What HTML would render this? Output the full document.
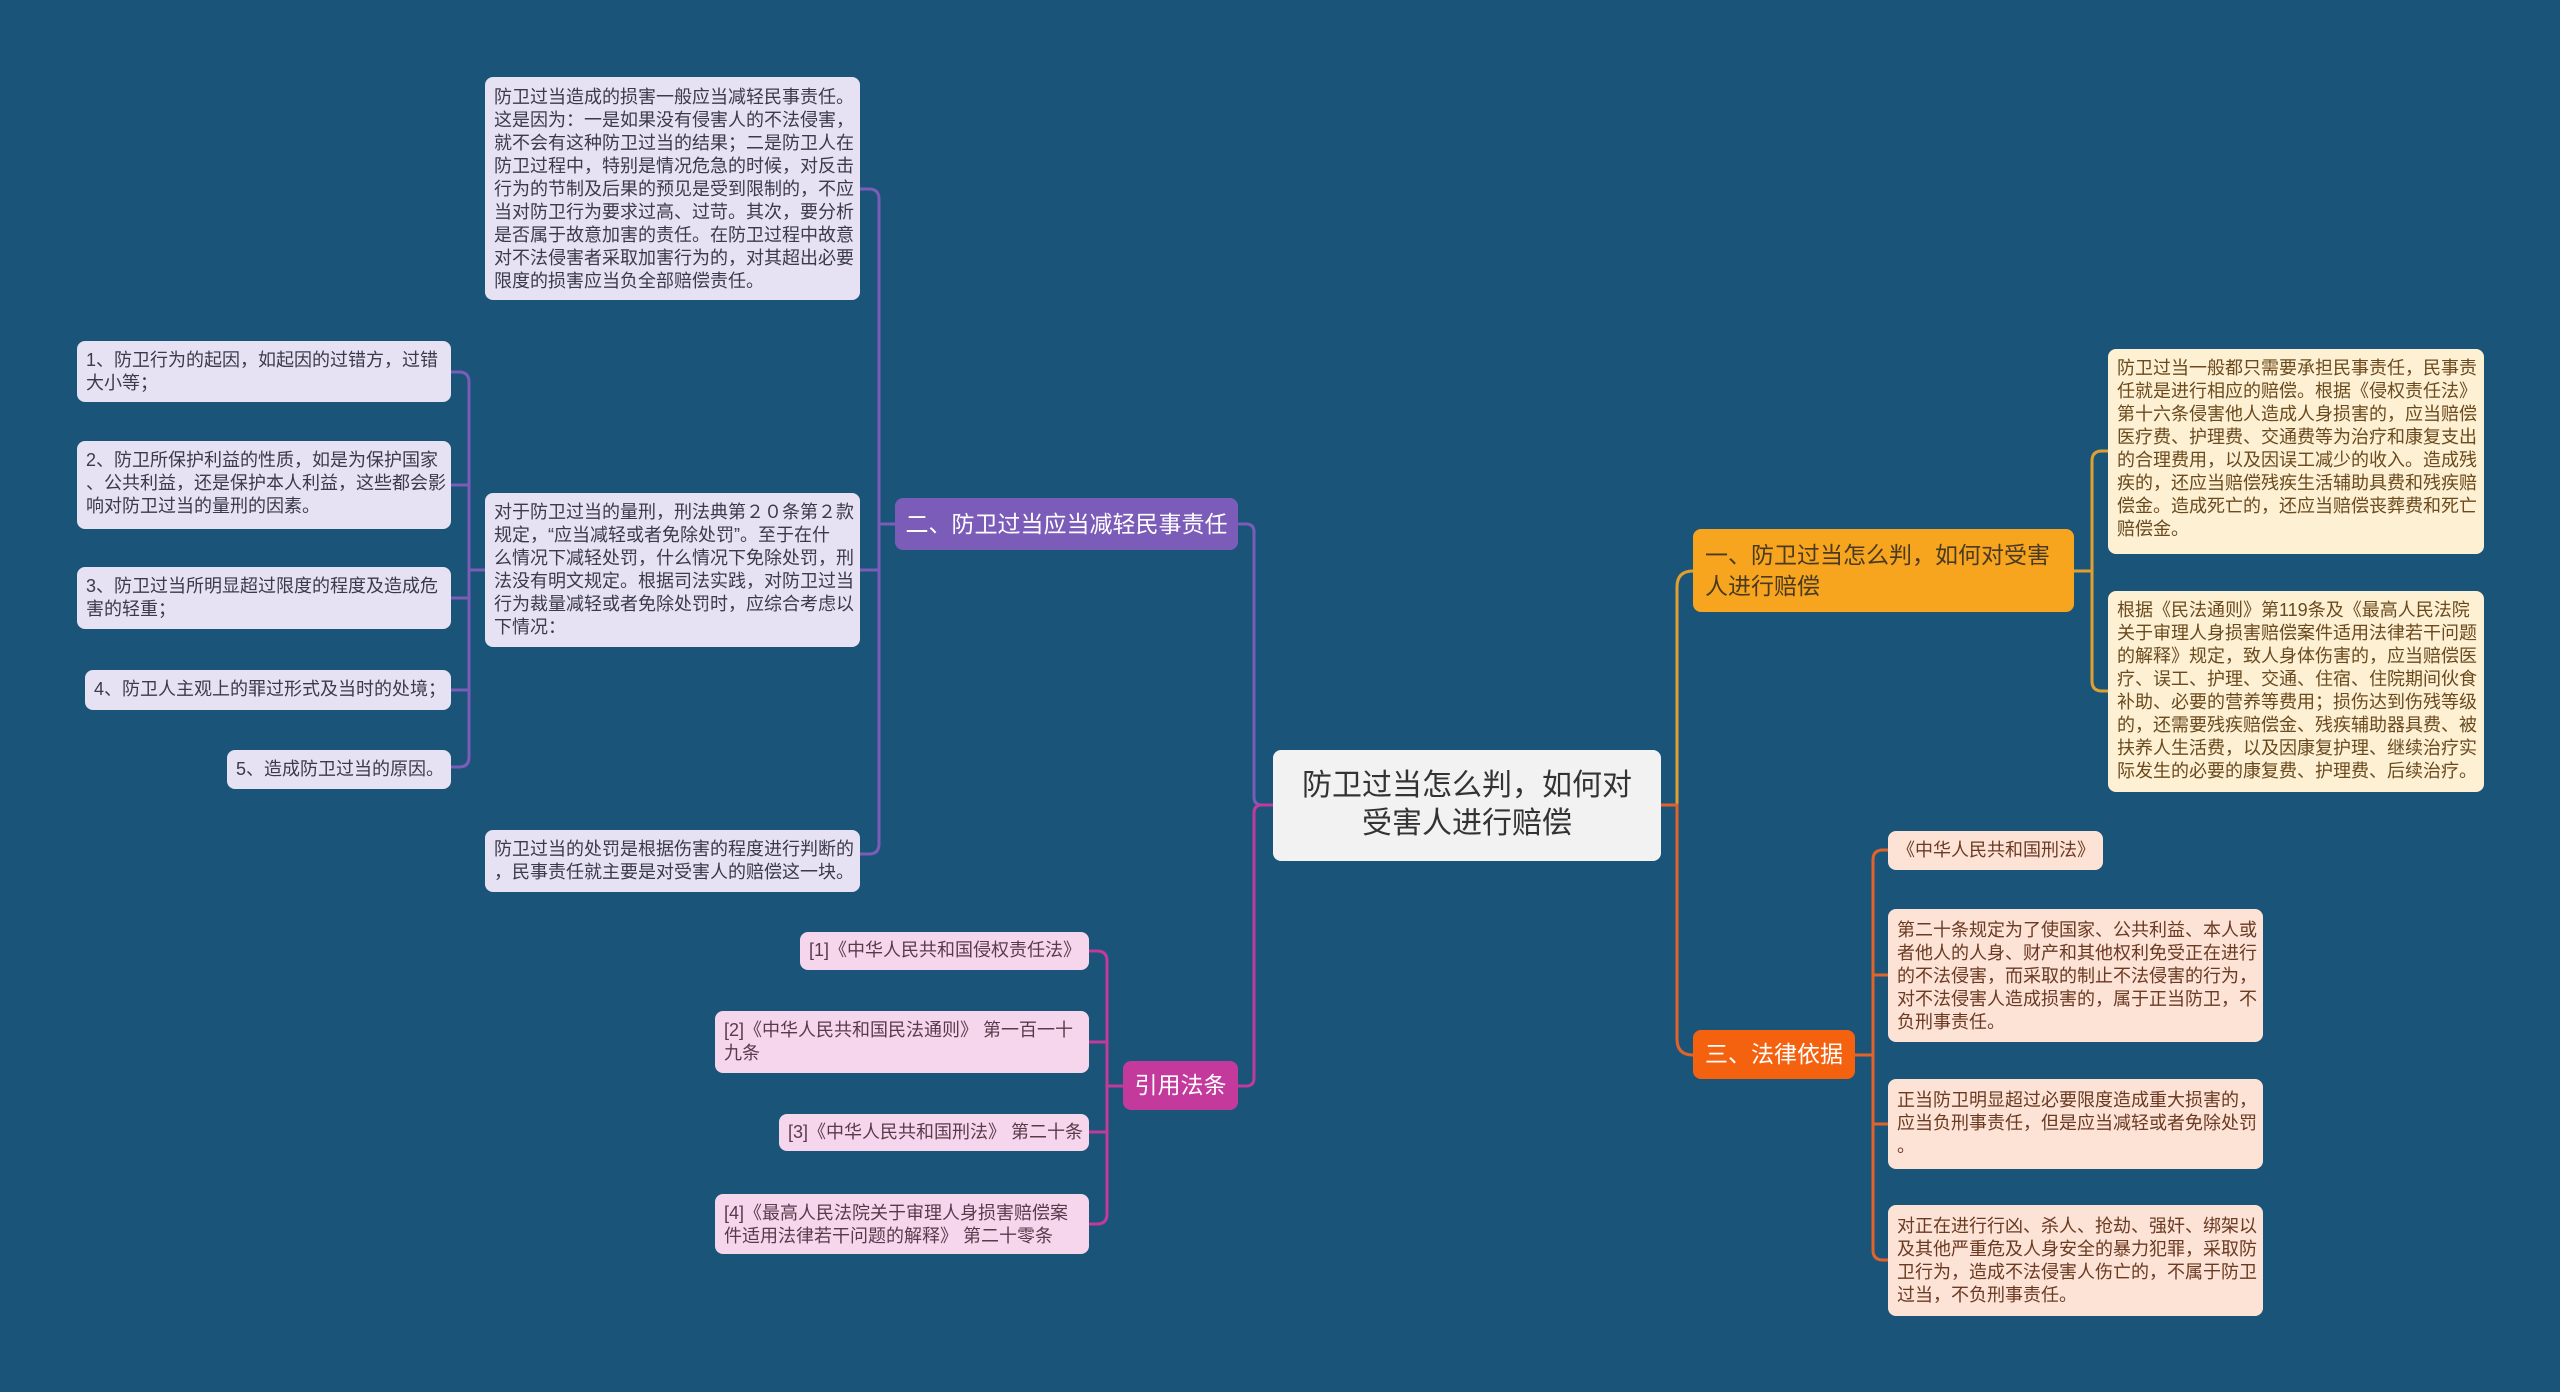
<!DOCTYPE html>
<html><head><meta charset="utf-8"><style>
*{margin:0;padding:0;box-sizing:border-box}
body{width:2560px;height:1392px;background:#1b5479;position:relative;overflow:hidden;font-family:"Liberation Sans","Noto Sans CJK SC",sans-serif}
.b{position:absolute;border-radius:8px;font-size:18px;line-height:23px;padding:8px 9px;white-space:nowrap;overflow:hidden}
.l{background:#e7e2f3;color:#3a3a4a}
.y{background:#fdf0d3;color:#6a4a1e}
.p{background:#fde2d6;color:#6a3a22}
.k{background:#f6d6ec;color:#5a3a4a}
.n{position:absolute;border-radius:8px;display:flex;align-items:center;color:#fff;font-size:23px;line-height:31px;padding:0 12px;white-space:nowrap}
.n span{display:block}
svg{position:absolute;left:0;top:0}
</style></head><body>
<svg width="2560" height="1392" fill="none" stroke-width="3">
<path d="M1273 805 H1262 Q1254 805 1254 797 V532 Q1254 524 1246 524 H1238" stroke="#7b5cb8"/>
<path d="M1273 805 H1262 Q1254 805 1254 813 V1078 Q1254 1086 1246 1086 H1238" stroke="#c23a9a"/>
<path d="M1661 805 H1677 V587 Q1677 571 1693 571" stroke="#e0a030"/>
<path d="M1661 805 H1677 V1039 Q1677 1055 1693 1055" stroke="#e0642a"/>
<path d="M895 524 H879" stroke="#7b5cb8"/>
<path d="M860 189 H869 Q879 189 879 199 V844 Q879 854 869 854 H860" stroke="#7b5cb8"/>
<path d="M860 570 H879" stroke="#7b5cb8"/>
<path d="M485 570 H469" stroke="#7b5cb8"/>
<path d="M451 372 H459 Q469 372 469 382 V757 Q469 767 459 767 H451" stroke="#7b5cb8"/>
<path d="M451 485 H469 M451 598 H469 M451 690 H469" stroke="#7b5cb8"/>
<path d="M1123 1086 H1107" stroke="#c23a9a"/>
<path d="M1089 951 H1097 Q1107 951 1107 961 V1214 Q1107 1224 1097 1224 H1089" stroke="#c23a9a"/>
<path d="M1089 1042 H1107 M1089 1132 H1107" stroke="#c23a9a"/>
<path d="M2074 571 H2092" stroke="#e0a030"/>
<path d="M2108 451 H2102 Q2092 451 2092 461 V681 Q2092 691 2102 691 H2108" stroke="#e0a030"/>
<path d="M1855 1055 H1873" stroke="#e0642a"/>
<path d="M1888 850 H1883 Q1873 850 1873 860 V1250 Q1873 1260 1883 1260 H1888" stroke="#e0642a"/>
<path d="M1873 975 H1888 M1873 1124 H1888" stroke="#e0642a"/>
</svg>

<div class="b l" style="left:485px;top:77px;width:375px;height:223px;padding-top:9px">防卫过当造成的损害一般应当减轻民事责任。<br>这是因为：一是如果没有侵害人的不法侵害，<br>就不会有这种防卫过当的结果；二是防卫人在<br>防卫过程中，特别是情况危急的时候，对反击<br>行为的节制及后果的预见是受到限制的，不应<br>当对防卫行为要求过高、过苛。其次，要分析<br>是否属于故意加害的责任。在防卫过程中故意<br>对不法侵害者采取加害行为的，对其超出必要<br>限度的损害应当负全部赔偿责任。</div>
<div class="b l" style="left:485px;top:493px;width:375px;height:154px">对于防卫过当的量刑，刑法典第２０条第２款<br>规定，“应当减轻或者免除处罚”。至于在什<br>么情况下减轻处罚，什么情况下免除处罚，刑<br>法没有明文规定。根据司法实践，对防卫过当<br>行为裁量减轻或者免除处罚时，应综合考虑以<br>下情况：</div>
<div class="b l" style="left:485px;top:830px;width:375px;height:62px">防卫过当的处罚是根据伤害的程度进行判断的<br>，民事责任就主要是对受害人的赔偿这一块。</div>

<div class="b l" style="left:77px;top:341px;width:374px;height:61px">1、防卫行为的起因，如起因的过错方，过错<br>大小等；</div>
<div class="b l" style="left:77px;top:441px;width:374px;height:88px">2、防卫所保护利益的性质，如是为保护国家<br>、公共利益，还是保护本人利益，这些都会影<br>响对防卫过当的量刑的因素。</div>
<div class="b l" style="left:77px;top:567px;width:374px;height:62px">3、防卫过当所明显超过限度的程度及造成危<br>害的轻重；</div>
<div class="b l" style="left:85px;top:670px;width:366px;height:40px">4、防卫人主观上的罪过形式及当时的处境；</div>
<div class="b l" style="left:227px;top:750px;width:224px;height:39px">5、造成防卫过当的原因。</div>

<div class="n" style="left:895px;top:498px;width:343px;height:52px;background:#7b5cb8;justify-content:center"><span>二、防卫过当应当减轻民事责任</span></div>
<div class="n" style="left:1123px;top:1061px;width:115px;height:49px;background:#c43a9c;justify-content:center"><span>引用法条</span></div>

<div class="b k" style="left:800px;top:932px;width:289px;height:38px;padding-top:7px;text-align:right">[1]《中华人民共和国侵权责任法》</div>
<div class="b k" style="left:715px;top:1011px;width:374px;height:62px">[2]《中华人民共和国民法通则》 第一百一十<br>九条</div>
<div class="b k" style="left:779px;top:1114px;width:310px;height:37px;padding-top:7px;text-align:right">[3]《中华人民共和国刑法》 第二十条</div>
<div class="b k" style="left:715px;top:1194px;width:374px;height:60px">[4]《最高人民法院关于审理人身损害赔偿案<br>件适用法律若干问题的解释》 第二十零条</div>

<div style="position:absolute;left:1273px;top:750px;width:388px;height:111px;background:#f2f2f2;border-radius:8px;color:#333;font-size:30px;line-height:38px;text-align:center;padding-top:17px">防卫过当怎么判，如何对<br>受害人进行赔偿</div>

<div class="n" style="left:1693px;top:529px;width:381px;height:83px;background:#f7a51f;color:#4a3a20"><span>一、防卫过当怎么判，如何对受害<br>人进行赔偿</span></div>
<div class="n" style="left:1693px;top:1030px;width:162px;height:49px;background:#f5620f;justify-content:center"><span>三、法律依据</span></div>

<div class="b y" style="left:2108px;top:349px;width:376px;height:205px">防卫过当一般都只需要承担民事责任，民事责<br>任就是进行相应的赔偿。根据《侵权责任法》<br>第十六条侵害他人造成人身损害的，应当赔偿<br>医疗费、护理费、交通费等为治疗和康复支出<br>的合理费用，以及因误工减少的收入。造成残<br>疾的，还应当赔偿残疾生活辅助具费和残疾赔<br>偿金。造成死亡的，还应当赔偿丧葬费和死亡<br>赔偿金。</div>
<div class="b y" style="left:2108px;top:591px;width:376px;height:201px">根据《民法通则》第119条及《最高人民法院<br>关于审理人身损害赔偿案件适用法律若干问题<br>的解释》规定，致人身体伤害的，应当赔偿医<br>疗、误工、护理、交通、住宿、住院期间伙食<br>补助、必要的营养等费用；损伤达到伤残等级<br>的，还需要残疾赔偿金、残疾辅助器具费、被<br>扶养人生活费，以及因康复护理、继续治疗实<br>际发生的必要的康复费、护理费、后续治疗。</div>

<div class="b p" style="left:1888px;top:831px;width:215px;height:39px">《中华人民共和国刑法》</div>
<div class="b p" style="left:1888px;top:909px;width:375px;height:133px;padding-top:10px">第二十条规定为了使国家、公共利益、本人或<br>者他人的人身、财产和其他权利免受正在进行<br>的不法侵害，而采取的制止不法侵害的行为，<br>对不法侵害人造成损害的，属于正当防卫，不<br>负刑事责任。</div>
<div class="b p" style="left:1888px;top:1079px;width:375px;height:90px;padding-top:10px">正当防卫明显超过必要限度造成重大损害的，<br>应当负刑事责任，但是应当减轻或者免除处罚<br>。</div>
<div class="b p" style="left:1888px;top:1205px;width:375px;height:111px;padding-top:10px">对正在进行行凶、杀人、抢劫、强奸、绑架以<br>及其他严重危及人身安全的暴力犯罪，采取防<br>卫行为，造成不法侵害人伤亡的，不属于防卫<br>过当，不负刑事责任。</div>
</body></html>
